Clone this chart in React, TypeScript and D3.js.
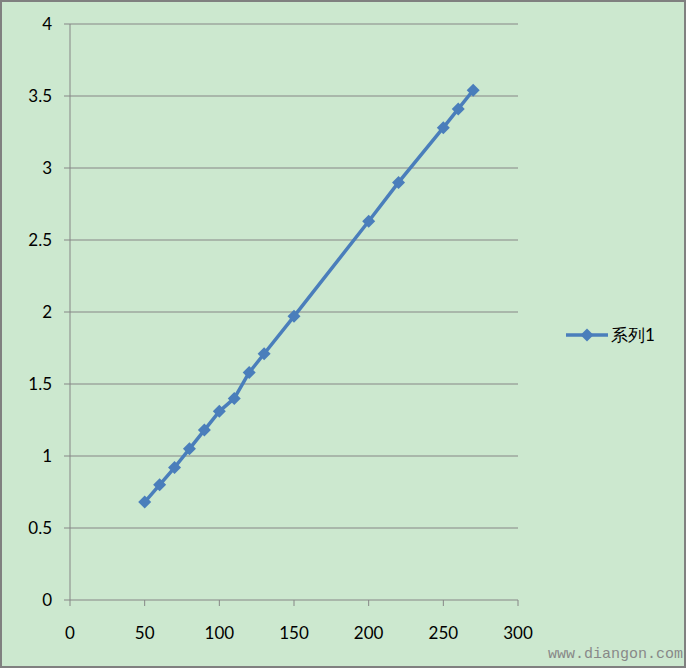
import React from "react";
import * as d3 from "d3";

const xValues = [50, 60, 70, 80, 90, 100, 110, 120, 130, 150, 200, 220, 250, 260, 270];
const yValues = [0.68, 0.8, 0.92, 1.05, 1.18, 1.31, 1.4, 1.58, 1.71, 1.97, 2.63, 2.9, 3.28, 3.41, 3.54];
const xTicks = [0, 50, 100, 150, 200, 250, 300];
const yTicks = [0, 0.5, 1, 1.5, 2, 2.5, 3, 3.5, 4];
const seriesName = "系列1";
const watermark = "www.diangon.com";

const W = 686;
const H = 668;
const left = 70, right = 518, top = 24, bottom = 600;
const bg = "#cce8cf";
const grid = "#868686";
const lineColor = "#4a7ebb";
const font = "Lato, 'Noto Sans', sans-serif";

export default function App() {
  const x = d3.scaleLinear().domain([0, 300]).range([left, right]);
  const y = d3.scaleLinear().domain([0, 4]).range([bottom, top]);
  const pts = xValues.map((v, i) => [v, yValues[i]] as [number, number]);
  const line = d3.line<[number, number]>().x((d) => x(d[0])).y((d) => y(d[1]));
  const diamond = (cx: number, cy: number, r: number) =>
    `M${cx},${cy - r}L${cx + r},${cy}L${cx},${cy + r}L${cx - r},${cy}Z`;
  return (
    <svg width={W} height={H} style={{ position: "absolute", left: 0, top: 0 }}>
      <rect x={1} y={1} width={W - 2} height={H - 2} fill={bg} stroke="#808080" strokeWidth={2} />
      {yTicks.map((t) => (
        <g key={"y" + t}>
          <line x1={left - 6} x2={right} y1={y(t)} y2={y(t)} stroke={grid} strokeWidth={1} />
          <text x={52} y={y(t)} dy="0.35em" textAnchor="end" fontFamily={font} fontSize={17} fill="#000">
            {t}
          </text>
        </g>
      ))}
      <line x1={left} x2={left} y1={top} y2={bottom} stroke={grid} strokeWidth={1} />
      {xTicks.map((t) => (
        <g key={"x" + t}>
          <line x1={x(t)} x2={x(t)} y1={bottom} y2={bottom + 6} stroke={grid} strokeWidth={1} />
          <text x={x(t)} y={633} dy="0.35em" textAnchor="middle" fontFamily={font} fontSize={17} fill="#000">
            {t}
          </text>
        </g>
      ))}
      <path d={line(pts) || ""} fill="none" stroke={lineColor} strokeWidth={3.5} strokeLinejoin="round" />
      {pts.map((p, i) => (
        <path key={i} d={diamond(x(p[0]), y(p[1]), 6.5)} fill={lineColor} />
      ))}
      <line x1={566} x2={608} y1={335} y2={335} stroke={lineColor} strokeWidth={3.5} />
      <path d={diamond(587, 335, 6.5)} fill={lineColor} />
      <text x={611} y={335} dy="0.35em" fontFamily={font} fontSize={17} fill="#000">
        {seriesName}
      </text>
      <text x={683} y={658} textAnchor="end" fontFamily="'Liberation Mono', 'DejaVu Sans Mono', monospace" fontSize={15} fill="#888">
        {watermark}
      </text>
    </svg>
  );
}
